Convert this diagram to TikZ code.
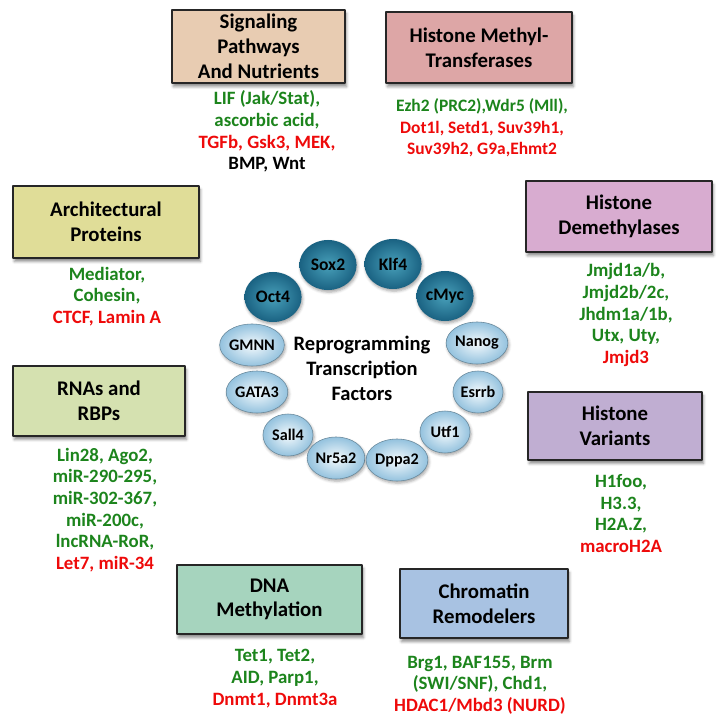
\documentclass[tikz,border=0pt]{standalone}
\usepackage{fontspec}
\setmainfont{Carlito}
\usetikzlibrary{shapes.geometric,shadows.blur}
\definecolor{sigcol}{RGB}{232,204,178}
\definecolor{hmtcol}{RGB}{221,166,166}
\definecolor{archcol}{RGB}{224,221,152}
\definecolor{hdmcol}{RGB}{216,172,208}
\definecolor{hvarcol}{RGB}{192,174,210}
\definecolor{rnacol}{RGB}{213,225,176}
\definecolor{dnacol}{RGB}{166,212,190}
\definecolor{chrcol}{RGB}{168,194,226}
\definecolor{grn}{RGB}{28,132,28}
\definecolor{rd}{RGB}{238,10,10}
\definecolor{tealin}{RGB}{72,160,186}
\definecolor{tealout}{RGB}{26,98,130}
\definecolor{skyin}{RGB}{244,250,253}
\definecolor{skyout}{RGB}{148,194,222}
\newcommand{\gtext}[1]{\textcolor{grn}{#1}}
\newcommand{\rtext}[1]{\textcolor{rd}{#1}}
\begin{document}
\begin{tikzpicture}[x=0.025cm, y=-0.025cm, line join=round,
	cat/.style={draw=black!85, line width=1pt, align=center, inner sep=1pt,
		blur shadow={shadow xshift=1pt, shadow yshift=-2.5pt, shadow opacity=45},
		font=\bfseries\fontsize{14.8}{17.6}\selectfont},
	lst/.style={align=center, inner sep=0pt, font=\bfseries\fontsize{13.4}{15.4}\selectfont},
	tfbig/.style={ellipse, minimum width=1.43cm, minimum height=1.25cm, inner sep=0pt,
		inner color=tealin, outer color=tealout,
		blur shadow={shadow xshift=.8pt, shadow yshift=-1.5pt, shadow opacity=35},
		font=\bfseries\fontsize{12.5}{14}\selectfont},
	tfsmall/.style={ellipse, minimum width=1.25cm, minimum height=1.05cm, inner sep=0pt,
		inner color=skyin, outer color=skyout, draw=skyout!70!black, line width=.4pt,
		blur shadow={shadow xshift=.8pt, shadow yshift=-1.5pt, shadow opacity=35},
		font=\bfseries\fontsize{11.5}{13}\selectfont}]
	\useasboundingbox (0,0) rectangle (725,723);
	% groups of factors
	\node[cat, fill=sigcol, minimum width=4.33cm, minimum height=1.83cm] (sig) at (258.5,46.5) {Signaling\\Pathways\\And Nutrients};
	\node[cat, fill=hmtcol, minimum width=4.65cm, minimum height=1.78cm] (hmt) at (479,47.5) {Histone Methyl-\\Transferases};
	\node[cat, fill=archcol, minimum width=4.65cm, minimum height=1.8cm] (arch) at (106,222) {Architectural\\Proteins};
	\node[cat, fill=hdmcol, minimum width=4.65cm, minimum height=1.78cm] (hdm) at (619,216.5) {Histone\\Demethylases};
	\node[cat, fill=rnacol, minimum width=4.3cm, minimum height=1.75cm] (rna) at (99,401) {RNAs and\\RBPs};
	\node[cat, fill=hvarcol, minimum width=4.35cm, minimum height=1.7cm] (hvar) at (615,426) {Histone\\Variants};
	\node[cat, fill=dnacol, minimum width=4.63cm, minimum height=1.73cm] (dna) at (269.5,599.5) {DNA\\Methylation};
	\node[cat, fill=chrcol, minimum width=4.2cm, minimum height=1.73cm] (chr) at (484,603.5) {Chromatin\\Remodelers};
	% members
	\node[lst] (sigl) at (267,131.5) {\gtext{LIF (Jak/Stat),}\\\gtext{ascorbic acid,}\\\rtext{TGFb, Gsk3, MEK,}\\BMP, Wnt};
	\node[lst, font=\bfseries\fontsize{12.4}{15.4}\selectfont] (hmtl) at (482,128) {\gtext{Ezh2 (PRC2),Wdr5 (Mll),}\\\rtext{Dot1l, Setd1, Suv39h1,}\\\rtext{Suv39h2, G9a,Ehmt2}};
	\node[lst] (archl) at (107,296.5) {\gtext{Mediator,}\\\gtext{Cohesin,}\\\rtext{CTCF, Lamin A}};
	\node[lst] (hdml) at (626,315) {\gtext{Jmjd1a/b,}\\\gtext{Jmjd2b/2c,}\\\gtext{Jhdm1a/1b,}\\\gtext{Utx, Uty,}\\\rtext{Jmjd3}};
	\node[lst] (rnal) at (105,510) {\gtext{Lin28, Ago2,}\\\gtext{miR-290-295,}\\\gtext{miR-302-367,}\\\gtext{miR-200c,}\\\gtext{lncRNA-RoR,}\\\rtext{Let7, miR-34}};
	\node[lst] (hvarl) at (621,513.5) {\gtext{H1foo,}\\\gtext{H3.3,}\\\gtext{H2A.Z,}\\\rtext{macroH2A}};
	\node[lst] (dnal) at (275,678.5) {\gtext{Tet1, Tet2,}\\\gtext{AID, Parp1,}\\\rtext{Dnmt1, Dnmt3a}};
	\node[lst] (chrl) at (480,685) {\gtext{Brg1, BAF155, Brm}\\\gtext{(SWI/SNF), Chd1,}\\\rtext{HDAC1/Mbd3 (NURD)}};
	% ring of transcription factors
	\node[tfbig] (oct) at (273,297) {Oct4};
	\node[tfbig] (sox) at (328,265) {Sox2};
	\node[tfbig] (klf) at (393,264) {Klf4};
	\node[tfbig] (myc) at (445,296) {cMyc};
	\node[tfsmall] (gmnn) at (252,345) {GMNN};
	\node[tfsmall] (nanog) at (477,343) {Nanog};
	\node[tfsmall] (gata) at (257,392) {GATA3};
	\node[tfsmall] (esrrb) at (478,392) {Esrrb};
	\node[tfsmall] (sall) at (288,435) {Sall4};
	\node[tfsmall] (utf) at (445,432) {Utf1};
	\node[tfsmall] (nr) at (336,458) {Nr5a2};
	\node[tfsmall] (dppa) at (397,460) {Dppa2};
	\node[align=center, font=\bfseries\fontsize{14.6}{17.7}\selectfont] (rtf) at (362,368) {Reprogramming\\Transcription\\Factors};
\end{tikzpicture}
\end{document}
